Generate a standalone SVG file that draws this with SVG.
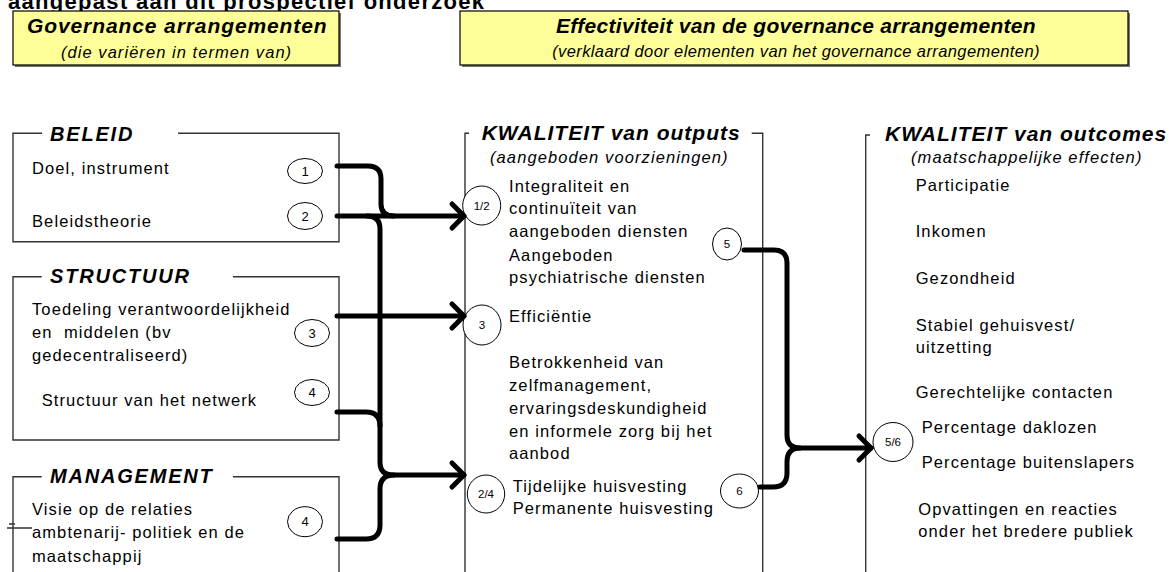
<svg xmlns="http://www.w3.org/2000/svg" width="1176" height="572" viewBox="0 0 1176 572">
<style>
text{font-family:"Liberation Sans",Arial,Helvetica,sans-serif;fill:#000}
.body{font-size:16.5px;letter-spacing:1.1px}
.sub{font-size:16.5px;letter-spacing:1.1px;font-style:italic}
.head{font-size:20px;letter-spacing:1.8px;font-weight:bold;font-style:italic}
.khead{font-size:21px;letter-spacing:1px;font-weight:bold;font-style:italic}
.num{font-size:13px;text-anchor:middle}
.nums{font-size:11.5px;text-anchor:middle}
.frame{fill:none;stroke:#333;stroke-width:1.4}
.port{fill:#fff;stroke:#000;stroke-width:1}
.ybox{fill:#ffff99;stroke:#000;stroke-width:1.2}
.shadow{fill:#777}
.conn{fill:none;stroke:#000;stroke-width:5;stroke-linecap:round;stroke-linejoin:round}
</style>
<defs>
<marker id="arrow" markerUnits="userSpaceOnUse" viewBox="0 0 20 30" markerWidth="20" markerHeight="30" refX="15" refY="15" orient="auto" overflow="visible">
<path d="M3,3 L15,15 L3,27" fill="none" stroke="#000" stroke-width="5" stroke-linecap="round" stroke-linejoin="round"/>
</marker>
</defs>
<rect width="1176" height="572" fill="#fff"/>
<text x="8" y="9" style="font-size:22px;font-weight:bold;letter-spacing:1.3px">aangepast aan dit prospectief onderzoek</text>

<g id="hdr-governance">
<rect class="shadow" x="15" y="13" width="326" height="54"/>
<rect class="ybox" x="13" y="11" width="326" height="54"/>
<text x="27" y="33" style="font-size:21px;font-weight:bold;font-style:italic;letter-spacing:0.9px">Governance arrangementen</text>
<text x="61" y="57.5" style="font-size:16.5px;font-style:italic;letter-spacing:1.05px">(die variëren in termen van)</text>
</g>

<g id="hdr-effectiviteit">
<rect class="shadow" x="462" y="13" width="668" height="54"/>
<rect class="ybox" x="460" y="11" width="668" height="54"/>
<text x="796" y="33" text-anchor="middle" style="font-size:21px;font-weight:bold;font-style:italic;letter-spacing:0.3px">Effectiviteit van de governance arrangementen</text>
<text x="796" y="57" text-anchor="middle" style="font-size:16.5px;font-style:italic;letter-spacing:0.4px">(verklaard door elementen van het governance arrangementen)</text>
</g>

<g id="beleid">
<path class="frame" d="M42,133.3 H13 V241.7 H339 V133.3 H178"/>
<text class="head" x="50" y="140.7">BELEID</text>
<text class="body" x="32" y="174">Doel, instrument</text>
<text class="body" x="32" y="227.3">Beleidstheorie</text>
</g>

<g id="structuur">
<path class="frame" d="M41.7,276.7 H13 V440 H339 V276.7 H233"/>
<text class="head" x="50" y="283.3">STRUCTUUR</text>
<text class="body" x="32" y="315">Toedeling verantwoordelijkheid</text>
<text class="body" x="32" y="338.3">en&#160; middelen (bv</text>
<text class="body" x="32" y="361">gedecentraliseerd)</text>
<text class="body" x="41.7" y="406">Structuur van het netwerk</text>
</g>

<g id="management">
<path class="frame" d="M41.7,476.7 H13 V575 M339,575 V476.7 H233"/>
<path class="frame" d="M7,528 H32 M9,524 H15"/>
<text class="head" x="50" y="483.3">MANAGEMENT</text>
<text class="body" x="32" y="515">Visie op de relaties</text>
<text class="body" x="32" y="538.3">ambtenarij- politiek en de</text>
<text class="body" x="32" y="561.7">maatschappij</text>
</g>

<g id="outputs">
<path class="frame" d="M469,133.3 H465 V575 M762.7,575 V133.3 H751.7"/>
<text class="khead" x="481.7" y="140">KWALITEIT van outputs</text>
<text class="sub" x="490" y="163.3">(aangeboden voorzieningen)</text>
<text class="body" x="509" y="191.7">Integraliteit en</text>
<text class="body" x="509" y="214">continuïteit van</text>
<text class="body" x="509" y="237.3">aangeboden diensten</text>
<text class="body" x="509" y="260.7">Aangeboden</text>
<text class="body" x="509" y="283.3">psychiatrische diensten</text>
<text class="body" x="509" y="321.7">Efficiëntie</text>
<text class="body" x="509" y="368.3">Betrokkenheid van</text>
<text class="body" x="509" y="391">zelfmanagement,</text>
<text class="body" x="509" y="414">ervaringsdeskundigheid</text>
<text class="body" x="509" y="436.7">en informele zorg bij het</text>
<text class="body" x="509" y="459.3">aanbod</text>
<text class="body" x="512.7" y="491.7">Tijdelijke huisvesting</text>
<text class="body" x="512.7" y="514.3">Permanente huisvesting</text>
</g>

<g id="outcomes">
<path class="frame" d="M870,135 H865.7 V575"/>
<text class="khead" x="885" y="140.7">KWALITEIT van outcomes</text>
<text class="sub" x="911" y="163.3">(maatschappelijke effecten)</text>
<text class="body" x="915.7" y="190.7">Participatie</text>
<text class="body" x="915.7" y="237.3">Inkomen</text>
<text class="body" x="915.7" y="284">Gezondheid</text>
<text class="body" x="915.7" y="330.7">Stabiel gehuisvest/</text>
<text class="body" x="915.7" y="353.3">uitzetting</text>
<text class="body" x="915.7" y="398.3">Gerechtelijke contacten</text>
<text class="body" x="921.7" y="433.3">Percentage daklozen</text>
<text class="body" x="921.7" y="468.3">Percentage buitenslapers</text>
<text class="body" x="918.3" y="515">Opvattingen en reacties</text>
<text class="body" x="918.3" y="536.7">onder het bredere publiek</text>
</g>

<g id="port-1"><ellipse class="port" cx="305" cy="171" rx="17.5" ry="12.5"/><text class="num" x="305" y="175.5">1</text></g>
<g id="port-2"><ellipse class="port" cx="305" cy="216" rx="17.5" ry="13.5"/><text class="num" x="305" y="220.5">2</text></g>
<g id="port-3"><ellipse class="port" cx="312" cy="333" rx="17.5" ry="13.5"/><text class="num" x="312" y="337.5">3</text></g>
<g id="port-4a"><ellipse class="port" cx="312" cy="392.5" rx="17.5" ry="13"/><text class="num" x="312" y="397">4</text></g>
<g id="port-4b"><ellipse class="port" cx="305" cy="521.7" rx="17.5" ry="15"/><text class="num" x="305" y="526.2">4</text></g>
<g id="port-12"><ellipse class="port" cx="481.7" cy="205.5" rx="19" ry="19.5"/><text class="nums" x="481.7" y="209.5">1/2</text></g>
<g id="port-3b"><ellipse class="port" cx="482" cy="325" rx="19" ry="20"/><text class="nums" x="482" y="329">3</text></g>
<g id="port-24"><ellipse class="port" cx="486" cy="494" rx="18.7" ry="19"/><text class="nums" x="486" y="498">2/4</text></g>
<g id="port-5"><ellipse class="port" cx="727" cy="244" rx="14.5" ry="16"/><text class="nums" x="727" y="248">5</text></g>
<g id="port-6"><ellipse class="port" cx="739.5" cy="491" rx="19" ry="17"/><text class="nums" x="739.5" y="495">6</text></g>
<g id="port-56"><ellipse class="port" cx="893" cy="442" rx="20" ry="19.5"/><text class="nums" x="893" y="446">5/6</text></g>

<g id="connectors">
<path class="conn" d="M337,166 H368 Q381,166 381,179 V204 Q381,216 394,216"/>
<path class="conn" d="M337,216 H464" marker-end="url(#arrow)"/>
<path class="conn" d="M367,216 Q380,216 380,229 V462 Q380,475 393,475 H464" marker-end="url(#arrow)"/>
<path class="conn" d="M337,316 H464" marker-end="url(#arrow)"/>
<path class="conn" d="M337,412 H366 Q380,412 380,426"/>
<path class="conn" d="M337,539 H366 Q380,539 380,525 V489 Q380,475 394,475"/>
<path class="conn" d="M744,250 H774 Q787,250 787,263 V435 Q787,448 800,448 H871" marker-end="url(#arrow)"/>
<path class="conn" d="M760,487 H773 Q787,487 787,473 V462 Q787,448 800,448"/>
</g>
</svg>
